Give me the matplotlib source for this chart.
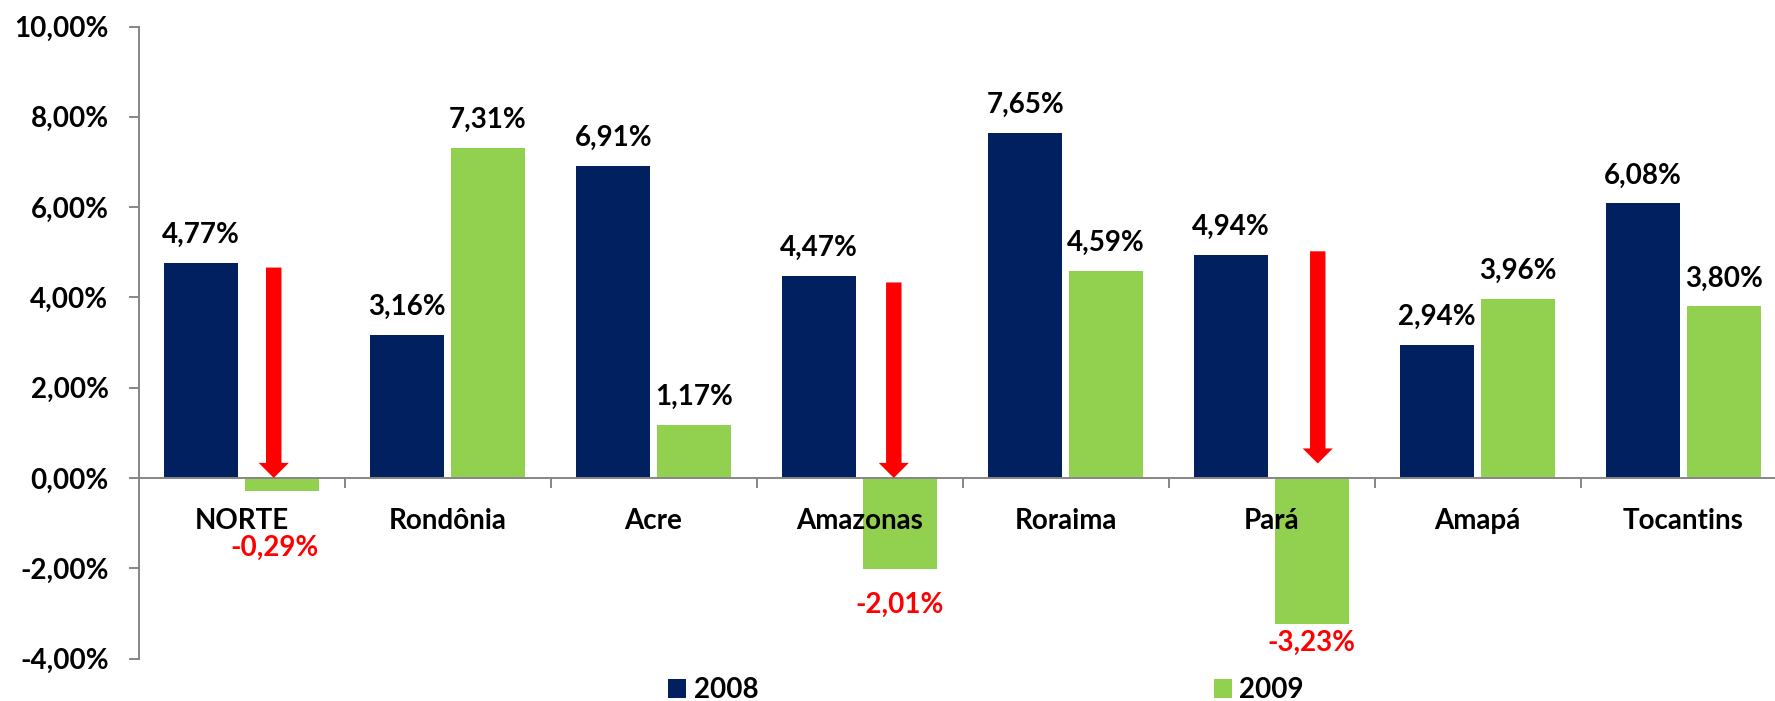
import matplotlib.pyplot as plt
from matplotlib.ticker import FuncFormatter, FixedLocator
import numpy as np

# Taxas por região (%)
regioes = ["NORTE", "Rondônia", "Acre", "Amazonas", "Roraima", "Pará", "Amapá", "Tocantins"]
taxa_2008 = [4.77, 3.16, 6.91, 4.47, 7.65, 4.94, 2.94, 6.08]
taxa_2009 = [-0.29, 7.31, 1.17, -2.01, 4.59, -3.23, 3.96, 3.80]
anos = ["2008", "2009"]

# Setas de queda: (índice da região, início, fim)
quedas = [(0, 4.66, 0.0), (3, 4.33, 0.0), (5, 5.02, 0.32)]

AZUL = "#002060"
VERDE = "#92D050"
CINZA = "#868686"

plt.rcParams["font.family"] = ["Lato", "DejaVu Sans"]
plt.rcParams["font.weight"] = "bold"


def fmt_pct(v):
    return f"{v:.2f}".replace(".", ",") + "%"


fig = plt.figure(figsize=(17.75, 7.01), dpi=100)
ax = fig.add_axes([138.5 / 1775, 42.5 / 701, 1648 / 1775, 632 / 701])

x = np.arange(len(regioes)) + 0.5
larg = 0.357
desl = 0.1955

ax.bar(x - desl, taxa_2008, width=larg, color=AZUL, label=anos[0])
ax.bar(x + desl, taxa_2009, width=larg, color=VERDE, label=anos[1])

# rótulos de valor
for xi, v in zip(x - desl, taxa_2008):
    ax.annotate(fmt_pct(v), (xi, v), xytext=(0, 14.4), textcoords="offset points",
                ha="center", va="baseline", fontsize=20, fontweight="bold")

# deslocamento (pt) e ajuste horizontal dos rótulos negativos
ajuste_neg = {0: (-46.4, -0.034), 3: (-31.7, 0.0), 5: (-19.4, 0.0)}
for i, (xi, v) in enumerate(zip(x + desl, taxa_2009)):
    if v >= 0:
        ax.annotate(fmt_pct(v), (xi, v), xytext=(0, 14.4), textcoords="offset points",
                    ha="center", va="baseline", fontsize=20, fontweight="bold")
    else:
        dy, dx = ajuste_neg[i]
        ax.annotate(fmt_pct(v), (xi + dx, v), xytext=(0, dy), textcoords="offset points",
                    ha="center", va="baseline", fontsize=20, fontweight="bold",
                    color="red")

# setas vermelhas indicando a queda
ajuste_seta = {0: -0.039, 3: -0.029, 5: 0.029}
for i, y0, y1 in quedas:
    xs = x[i] + desl + ajuste_seta[i]
    ax.arrow(xs, y0, 0, y1 - y0, width=0.075, head_width=0.146, head_length=0.333,
             length_includes_head=True, color="red", linewidth=0, zorder=3)

# nomes das regiões
for xi, nome in zip(x, regioes):
    ax.annotate(nome, (xi, 0), xytext=(0, -36.7), textcoords="offset points",
                ha="center", va="baseline", fontsize=20, fontweight="bold")

ax.set_xlim(0, len(regioes))
ax.set_ylim(-4, 10)
ax.set_yticks(np.arange(-4, 10.1, 2))
ax.yaxis.set_major_formatter(FuncFormatter(lambda v, _: fmt_pct(v)))
ax.tick_params(axis="y", length=7.2, width=1.4, color=CINZA, pad=14.4, labelsize=20)
for lb in ax.get_yticklabels():
    lb.set_fontweight("bold")

ax.set_xticks([])
ax.xaxis.set_minor_locator(FixedLocator(np.arange(1, len(regioes))))
ax.tick_params(axis="x", which="minor", length=7.2, width=1.4, color=CINZA)

for lado in ["top", "right"]:
    ax.spines[lado].set_visible(False)
ax.spines["bottom"].set_position(("data", 0))
for lado in ["left", "bottom"]:
    ax.spines[lado].set_color(CINZA)
    ax.spines[lado].set_linewidth(1.4)

fig.legend(loc="center left", bbox_to_anchor=(668 / 1775, 1 - 690 / 701), ncol=2,
           frameon=False, fontsize=20, handlelength=0.65, handleheight=0.65,
           handletextpad=0.27, columnspacing=16.4, borderpad=0, borderaxespad=0,
           prop={"weight": "bold", "size": 20})

fig.savefig("out.png", dpi=100)
